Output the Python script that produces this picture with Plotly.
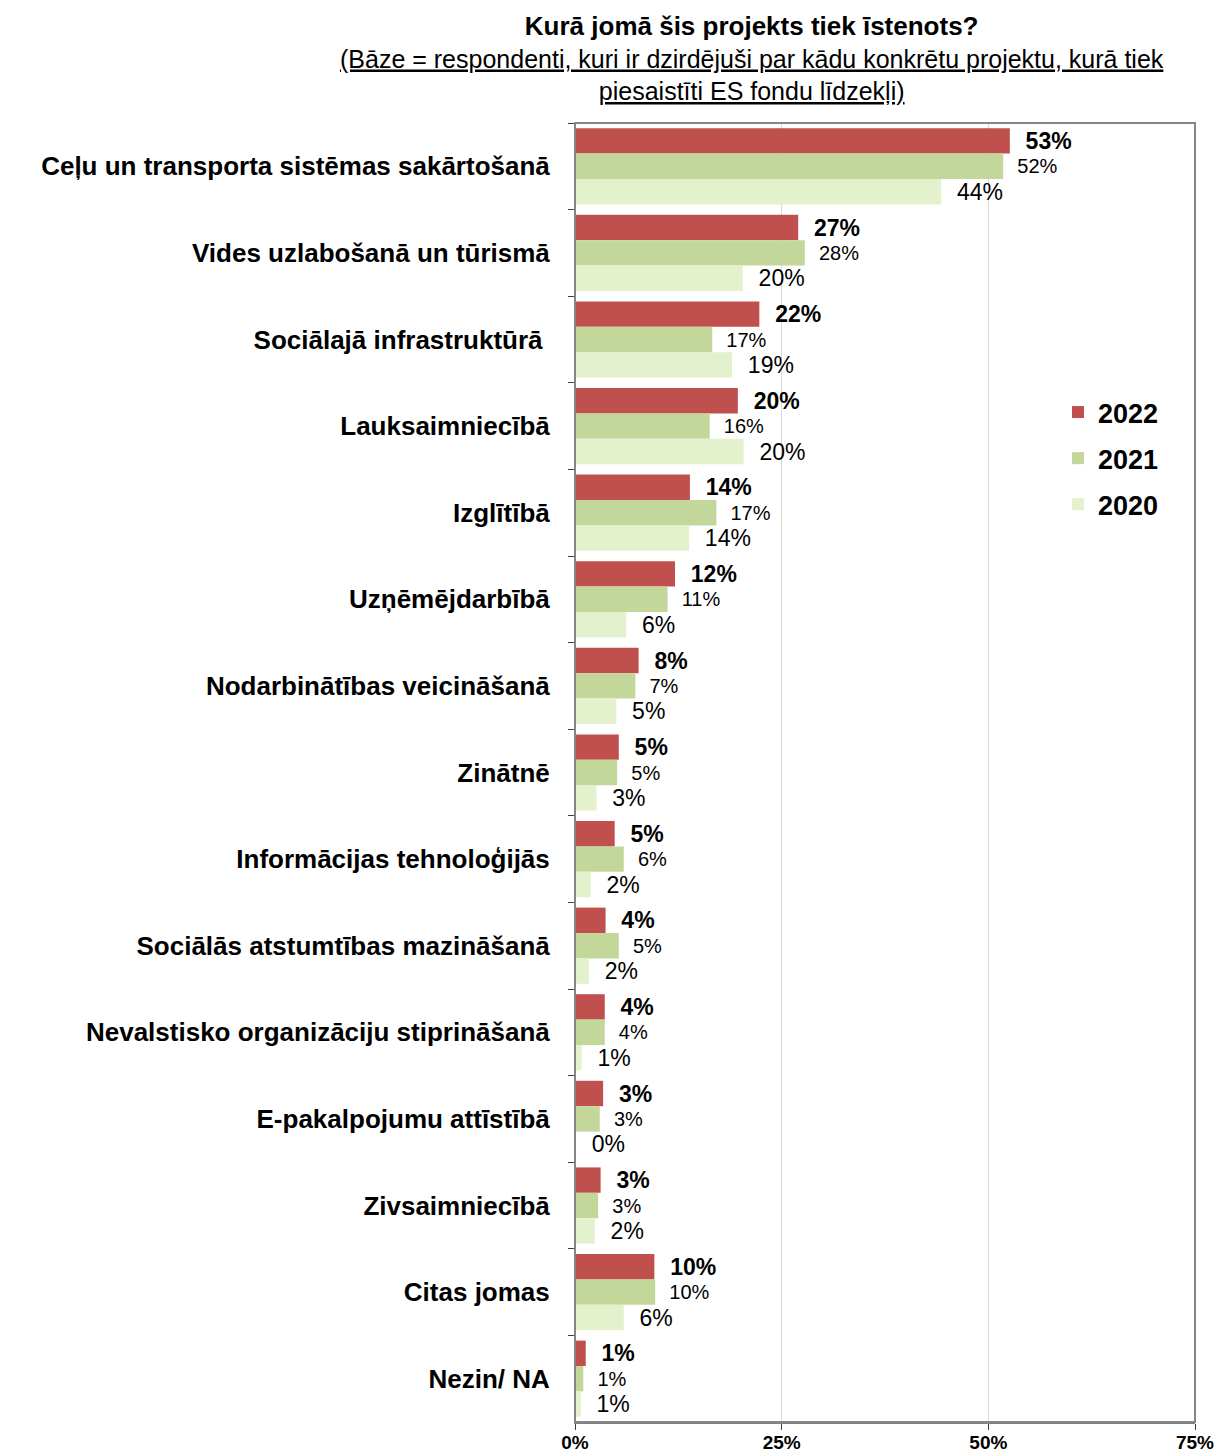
import plotly.graph_objects as go

categories = [
    "Ceļu un transporta sistēmas sakārtošanā",
    "Vides uzlabošanā un tūrismā",
    "Sociālajā infrastruktūrā\u00a0",
    "Lauksaimniecībā",
    "Izglītībā",
    "Uzņēmējdarbībā",
    "Nodarbinātības veicināšanā",
    "Zinātnē",
    "Informācijas tehnoloģijās",
    "Sociālās atstumtības mazināšanā",
    "Nevalstisko organizāciju stiprināšanā",
    "E-pakalpojumu attīstībā",
    "Zivsaimniecībā",
    "Citas jomas",
    "Nezin/ NA",
]
v2022 = [52.6, 27.0, 22.3, 19.7, 13.9, 12.1, 7.7, 5.3, 4.8, 3.7, 3.6, 3.4, 3.1, 9.6, 1.3]
v2021 = [51.8, 27.8, 16.6, 16.3, 17.1, 11.2, 7.3, 5.1, 5.9, 5.3, 3.6, 3.0, 2.8, 9.7, 1.0]
v2020 = [44.3, 20.3, 19.0, 20.4, 13.8, 6.2, 5.0, 2.6, 1.9, 1.7, 0.8, 0.1, 2.4, 5.9, 0.7]
x_ticks = [0, 25, 50, 75]
x_tick_labels = ["0%", "25%", "50%", "75%"]

FONT = "Liberation Sans, Arial, sans-serif"

series = [
    ("2022", v2022, "#C0504D", dict(family=FONT, size=23, color="black", weight="bold")),
    ("2021", v2021, "#C4D79B", dict(family=FONT, size=20, color="black")),
    ("2020", v2020, "#E4F1CD", dict(family=FONT, size=23, color="black")),
]

fig = go.Figure()
for name, vals, color, tfont in series:
    fig.add_trace(go.Bar(
        name=name, y=categories, x=vals, orientation="h",
        marker=dict(color=color, line=dict(width=0)),
        texttemplate="\u00a0\u00a0%{x:.0f}%", textposition="outside",
        textfont=tfont, cliponaxis=False, constraintext="none",
        legendgroup=name,
    ))

fig.update_layout(
    width=1223, height=1448,
    paper_bgcolor="white", plot_bgcolor="white",
    margin=dict(l=567, r=36, t=115, b=34),
    barmode="group", bargap=0.12, bargroupgap=0,
    font=dict(family=FONT, color="black"),
    showlegend=True,
    legend=dict(
        x=0.779, y=0.796, xanchor="left", yanchor="top",
        bgcolor="rgba(0,0,0,0)", traceorder="grouped",
        font=dict(family=FONT, size=27, color="black", weight="bold"),
        tracegroupgap=8, itemwidth=30,
    ),
    xaxis=dict(
        range=[0, 75], tickvals=x_ticks, ticktext=x_tick_labels,
        showgrid=True, gridcolor="#D9D9D9", gridwidth=1,
        ticks="outside", ticklen=6, tickcolor="#404040",
        showline=True, linecolor="#808080", linewidth=2,
        tickfont=dict(family=FONT, size=19, color="black", weight="bold"),
        zeroline=False, automargin=False, ticklabelstandoff=-4,
    ),
    yaxis=dict(
        autorange="reversed", tickson="boundaries",
        ticks="outside", ticklen=6, tickcolor="#404040",
        showline=True, linecolor="#404040", linewidth=1,
        tickfont=dict(family=FONT, size=26, color="black", weight="bold"),
        ticklabelstandoff=19, automargin=False,
    ),
    shapes=[dict(type="rect", xref="paper", yref="paper", x0=0, x1=1, y0=0, y1=1,
                 line=dict(color="#868686", width=2), fillcolor="rgba(0,0,0,0)", layer="above")],
    annotations=[dict(
        xref="paper", yref="paper", x=0.285, y=1.088, xanchor="center", yanchor="top",
        showarrow=False, align="center",
        text=("<b><span style='font-size:26px'>Kurā jomā šis projekts tiek īstenots?</span></b><br>"
              "<u>(Bāze = respondenti, kuri ir dzirdējuši par kādu konkrētu projektu, kurā tiek</u><br>"
              "<u>piesaistīti ES fondu līdzekļi)</u>"),
        font=dict(family=FONT, size=25, color="black"),
    )],
)

fig.write_html("out.html")
